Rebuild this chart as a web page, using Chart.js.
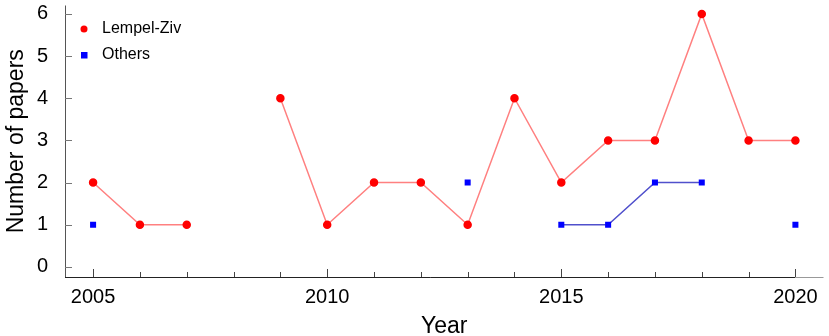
<!DOCTYPE html>
<html>
<head>
<meta charset="utf-8">
<script src="https://cdn.jsdelivr.net/npm/chart.js@4/dist/chart.umd.min.js"></script>
<style>
  html, body { margin: 0; padding: 0; background: #fff; }
  #wrap { width: 829px; height: 336px; position: relative; }
</style>
</head>
<body>
<div id="wrap"><canvas id="chart"></canvas></div>
<script>
// data
const years = [2005, 2006, 2007, 2008, 2009, 2010, 2011, 2012, 2013, 2014, 2015, 2016, 2017, 2018, 2019, 2020];
const lempelZiv = [2, 1, 1, null, 4, 1, 2, 2, 1, 4, 2, 3, 3, 6, 3, 3];
const others = [1, null, null, null, null, null, null, null, 2, null, 1, 1, 2, 2, null, 1];
const xTicks = [2005, 2010, 2015, 2020];
const yTicks = [0, 1, 2, 3, 4, 5, 6];

const toPoints = vals => years.map((yr, i) => ({ x: yr, y: vals[i] }));
const FONT = 'Liberation Sans, Arial, sans-serif';

// inward tick marks + axis lines
const axisPlugin = {
  id: 'axisPlugin',
  afterDraw(chart) {
    const ctx = chart.ctx;
    const a = chart.chartArea;
    const xs = chart.scales.x, ys = chart.scales.y;
    ctx.save();
    ctx.lineWidth = 1;
    ctx.strokeStyle = '#555';
    ctx.beginPath();
    ctx.moveTo(a.left + 0.5, a.top);
    ctx.lineTo(a.left + 0.5, a.bottom);
    ctx.stroke();
    const xEnd = xs.getPixelForValue(2020);
    ctx.strokeStyle = '#222';
    ctx.beginPath();
    ctx.moveTo(a.left, a.bottom + 0.5);
    ctx.lineTo(xEnd, a.bottom + 0.5);
    ctx.stroke();
    ctx.strokeStyle = '#999';
    ctx.beginPath();
    ctx.moveTo(xEnd, a.bottom + 0.5);
    ctx.lineTo(a.right, a.bottom + 0.5);
    ctx.stroke();

    ctx.strokeStyle = '#444';
    years.forEach(yr => {
      const px = Math.round(xs.getPixelForValue(yr)) + 0.5;
      const len = xTicks.includes(yr) ? 8 : 5;
      ctx.beginPath();
      ctx.moveTo(px, a.bottom);
      ctx.lineTo(px, a.bottom - len);
      ctx.stroke();
    });
    ctx.strokeStyle = '#777';
    yTicks.forEach(v => {
      const py = Math.round(ys.getPixelForValue(v)) + 0.5;
      ctx.beginPath();
      ctx.moveTo(a.left, py);
      ctx.lineTo(a.left + 7, py);
      ctx.stroke();
    });
    ctx.restore();
  }
};

new Chart(document.getElementById('chart'), {
  type: 'line',
  data: {
    datasets: [
      {
        label: 'Lempel-Ziv',
        data: toPoints(lempelZiv),
        borderColor: '#ff8080',
        borderWidth: 1.5,
        backgroundColor: '#ff0000',
        pointBackgroundColor: '#ff0000',
        pointBorderColor: '#ff0000',
        pointStyle: 'circle',
        pointRadius: 3.5,
        spanGaps: false,
        tension: 0
      },
      {
        label: 'Others',
        data: toPoints(others),
        borderColor: '#5050cc',
        borderWidth: 1.5,
        backgroundColor: '#0000ff',
        pointBackgroundColor: '#0000ff',
        pointBorderColor: '#0000ff',
        pointStyle: 'rect',
        pointRadius: 3.2,
        spanGaps: false,
        tension: 0
      }
    ]
  },
  options: {
    responsive: true,
    maintainAspectRatio: false,
    animation: false,
    layout: { padding: { left: 0, right: 4, top: 4, bottom: 0 } },
    plugins: {
      tooltip: { enabled: false },
      legend: { display: false }
    },
    scales: {
      x: {
        type: 'linear',
        min: 2004.4,
        max: 2020.6,
        border: { display: false },
        grid: { display: false },
        afterFit: s => {
          s.height = 59;
          s.paddingLeft = 0;
          s.paddingRight = 0;
        },
        afterBuildTicks: s => { s.ticks = xTicks.map(v => ({ value: v })); },
        ticks: {
          color: '#000',
          font: { family: FONT, size: 20 },
          padding: 0,
          maxRotation: 0,
          callback: v => String(v)
        },
        title: {
          display: true,
          text: 'Year',
          color: '#000',
          font: { family: FONT, size: 23, lineHeight: 1 },
          padding: { top: 0, bottom: -2 }
        }
      },
      y: {
        min: -0.24,
        max: 6.2,
        border: { display: false },
        grid: { display: false },
        afterFit: s => {
          s.width = 65;
          s.paddingTop = 0;
          s.paddingBottom = 0;
        },
        afterBuildTicks: s => { s.ticks = yTicks.map(v => ({ value: v })); },
        ticks: {
          color: '#000',
          font: { family: FONT, size: 20 },
          padding: 9
        },
        title: {
          display: true,
          text: 'Number of papers',
          color: '#000',
          font: { family: FONT, size: 23, lineHeight: 1 },
          padding: { top: 5, bottom: 0 }
        }
      }
    }
  },
  plugins: [axisPlugin, {
    id: 'insideLegend',
    afterDraw(chart) {
      const ctx = chart.ctx;
      const items = [
        { text: 'Lempel-Ziv', color: '#ff0000', shape: 'circle', y: 29 },
        { text: 'Others', color: '#0000ff', shape: 'rect', y: 55 }
      ];
      ctx.save();
      ctx.font = '16px ' + FONT;
      ctx.textBaseline = 'middle';
      items.forEach(it => {
        ctx.fillStyle = it.color;
        if (it.shape === 'circle') {
          ctx.beginPath();
          ctx.arc(84, it.y, 3.5, 0, Math.PI * 2);
          ctx.fill();
        } else {
          ctx.fillRect(81, it.y - 3, 6.5, 6.5);
        }
        ctx.fillStyle = '#000';
        ctx.fillText(it.text, 102, it.y);
      });
      ctx.restore();
    }
  }]
});
</script>
</body>
</html>
